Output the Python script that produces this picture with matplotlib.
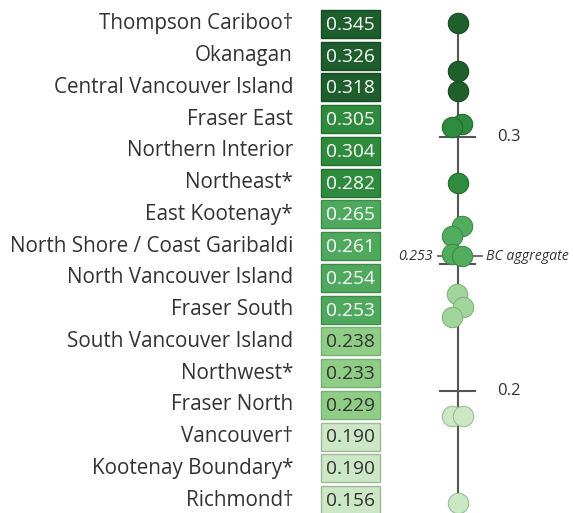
import matplotlib
matplotlib.use("Agg")
import matplotlib.pyplot as plt
from matplotlib.patches import Rectangle

regions = ["Thompson Cariboo\u2020", "Okanagan", "Central Vancouver Island", "Fraser East",
           "Northern Interior", "Northeast*", "East Kootenay*", "North Shore / Coast Garibaldi",
           "North Vancouver Island", "Fraser South", "South Vancouver Island", "Northwest*",
           "Fraser North", "Vancouver\u2020", "Kootenay Boundary*", "Richmond\u2020"]
values = [0.345, 0.326, 0.318, 0.305, 0.304, 0.282, 0.265, 0.261,
          0.254, 0.253, 0.238, 0.233, 0.229, 0.190, 0.190, 0.156]
value_labels = ["0.345", "0.326", "0.318", "0.305", "0.304", "0.282", "0.265", "0.261",
                "0.254", "0.253", "0.238", "0.233", "0.229", "0.190", "0.190", "0.156"]
tier = [0, 0, 0, 1, 1, 1, 2, 2, 2, 2, 3, 3, 3, 4, 4, 4]
bc_aggregate = 0.253
axis_ticks = [0.3, 0.25, 0.2]
axis_tick_labels = ["0.3", "", "0.2"]

# styling
box_colors = ["#1e5d2c", "#2e8a3d", "#4fa95d", "#8fcd87", "#cce7c5"]
box_edges = ["#174a23", "#246e30", "#3f8a4b", "#78b071", "#9fb89a"]
dot_colors = ["#1f5f2b", "#2f8b3d", "#52ac5e", "#a2d59c", "#cbe7c4"]
dot_edges = ["#174a22", "#236c2f", "#3f8c4a", "#7fb57a", "#9dbd98"]
text_colors = ["white", "white", "white", "#333333", "#333333"]
jitter = [0, 0, 0, 4, -6, 0, 4, -6, -6, 4, -1, 5, -6, -6, 5, 0]  # swarm offsets (px)

W, H = 573, 513
fig = plt.figure(figsize=(W / 100, H / 100), dpi=100)
fig.patch.set_facecolor("white")

# ---- rows axes (labels + boxes)
n = len(regions)
row0, row_last = 24, 500
sp = (row_last - row0) / (n - 1)
axr = fig.add_axes([0, 0, 1, 1])
axr.set_xlim(0, W)
axr.set_ylim((H - row0) / sp, -row0 / sp)
axr.axis("off")

font = "Open Sans"
for i, (name, lab, t) in enumerate(zip(regions, value_labels, tier)):
    axr.text(293, i, name, ha="right", va="center", fontsize=14.9, color="#333333",
             family=font)
    bh = 28 / sp
    axr.add_patch(Rectangle((321, i - bh / 2), 59, bh, facecolor=box_colors[t],
                            edgecolor=box_edges[t], lw=1.0))
    axr.text(326, i + 0.03, lab, ha="left", va="center", fontsize=13.8,
             color=text_colors[t], family=font)

# ---- dot axes (value scale)
px_per_unit = (391 - 137) / 0.1
top_val = 0.3 + 137 / px_per_unit
bot_val = 0.3 - (H - 137) / px_per_unit
axd = fig.add_axes([0, 0, 1, 1])
axd.set_xlim(0, W)
axd.set_ylim(bot_val, top_val)
axd.axis("off")
axd.patch.set_alpha(0)

cx = 458
axd.plot([cx, cx], [min(values), max(values)], color="#555555", lw=1.5, zorder=1)
for tv, tl in zip(axis_ticks, axis_tick_labels):
    axd.plot([cx - 18, cx + 17], [tv, tv], color="#555555", lw=1.5, zorder=1)
    if tl:
        axd.text(497, tv, tl, ha="left", va="center", fontsize=12, color="#333333",
                 family=font)
axd.plot([cx - 20, cx + 24], [bc_aggregate, bc_aggregate], color="#555555", lw=1.2,
         zorder=1)
axd.text(433, bc_aggregate, f"{bc_aggregate:.3f}", ha="right", va="center",
         fontsize=10.2, style="italic", color="#333333", family=font)
axd.text(486, bc_aggregate, "BC aggregate", ha="left", va="center",
         fontsize=10.2, style="italic", color="#333333", family=font)

for v, t, j in zip(values, tier, jitter):
    axd.scatter([cx + j], [v], s=215, color=dot_colors[t], edgecolors=dot_edges[t],
                linewidths=0.8, zorder=3)

fig.savefig("out.png", dpi=100, facecolor="white")
